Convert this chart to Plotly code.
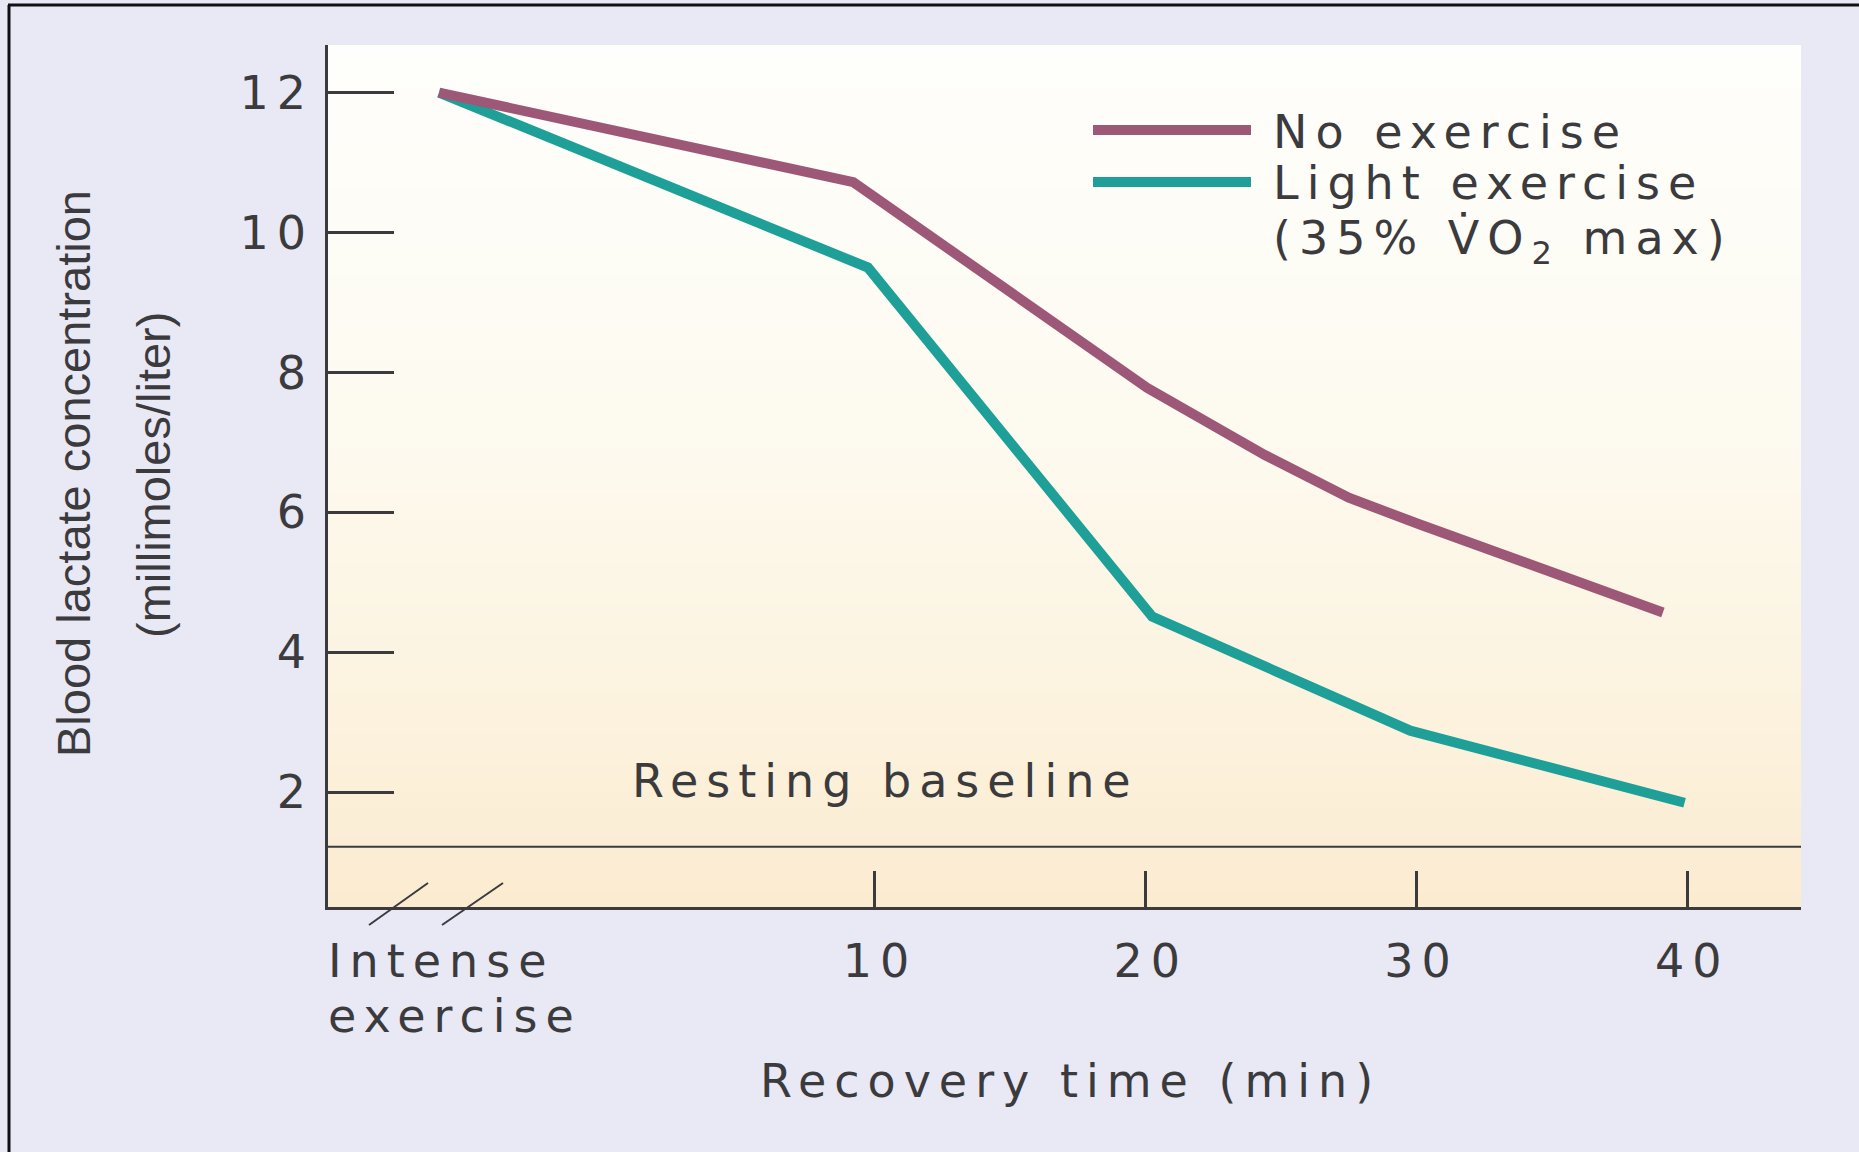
import plotly.graph_objects as go

# ---------------- data ----------------
no_ex_time = [-6.1, 9.2, 20.05, 21.4, 24.4, 27.5, 30.1, 39.1]
no_ex_lactate = [12.0, 10.72, 7.78, 7.47, 6.82, 6.21, 5.83, 4.57]

light_time = [-6.1, 9.74, 20.24, 29.77, 39.9]
light_lactate = [12.0, 9.50, 4.51, 2.88, 1.85]

resting_baseline = 1.22

x_tickvals = [10, 20, 30, 40]
x_ticktext = ["10", "20", "30", "40"]
y_tickvals = [2, 4, 6, 8, 10, 12]
y_ticktext = ["2", "4", "6", "8", "10", "12"]

series_names = ["No exercise", "Light exercise"]

# ---------------- styling ----------------
W, H = 1859, 1152
ML, MR, MT, MB = 328, 58, 45, 245
PL, PR, PT, PB = ML, W - MR, MT, H - MB

PURPLE = "#9e5877"
TEAL = "#1e9f98"
INK = "#3b3b3e"
FONT = "DejaVu Sans"
FS = 46


def fx(px):
    return (px - PL) / (PR - PL)


def fy(py):
    return (PB - py) / (PB - PT)


def sp(t):
    return f"<span style='letter-spacing:8px'>{t}</span>"


fig = go.Figure()

fig.add_trace(go.Scatter(x=light_time, y=light_lactate, mode="lines",
                         line=dict(color=TEAL, width=10), name=series_names[1],
                         showlegend=False, hoverinfo="skip"))
fig.add_trace(go.Scatter(x=no_ex_time, y=no_ex_lactate, mode="lines",
                         line=dict(color=PURPLE, width=10), name=series_names[0],
                         showlegend=False, hoverinfo="skip"))

shapes = []
# gradient plot background (cream -> peach)
stops = [(0.0, (254, 254, 252)), (0.45, (253, 250, 239)),
         (0.75, (252, 243, 224)), (1.0, (251, 235, 208))]


def grad(t):
    for (t0, c0), (t1, c1) in zip(stops[:-1], stops[1:]):
        if t0 <= t <= t1:
            u = (t - t0) / (t1 - t0)
            return "rgb(%d,%d,%d)" % tuple(round(a + (b - a) * u) for a, b in zip(c0, c1))
    return "rgb(%d,%d,%d)" % stops[-1][1]


N = 60
for i in range(N):
    y0 = i / N
    y1 = min(1.0, (i + 1) / N + 0.002)
    t = 1 - (i + 0.5) / N  # 0 at top
    shapes.append(dict(type="rect", xref="x domain", yref="y domain",
                       x0=0, x1=1, y0=y0, y1=y1, fillcolor=grad(t),
                       line=dict(width=0), layer="below"))

# resting baseline
shapes.append(dict(type="line", xref="x domain", yref="y", x0=0, x1=1,
                   y0=resting_baseline, y1=resting_baseline,
                   line=dict(color=INK, width=2)))

# axis-break marks
for (a, b, c, d) in [(369, 925, 428, 883), (442, 925, 503, 883)]:
    shapes.append(dict(type="line", xref="paper", yref="paper",
                       x0=fx(a), y0=fy(b), x1=fx(c), y1=fy(d),
                       line=dict(color=INK, width=2)))

# legend swatches
for col, py in [(PURPLE, 130), (TEAL, 182)]:
    shapes.append(dict(type="line", xref="paper", yref="paper",
                       x0=fx(1093), x1=fx(1251), y0=fy(py), y1=fy(py),
                       line=dict(color=col, width=10)))

# scanned-page frame (top and left)
shapes.append(dict(type="line", xref="paper", yref="paper",
                   x0=fx(8), x1=fx(W), y0=fy(5), y1=fy(5),
                   line=dict(color="#111111", width=3)))
shapes.append(dict(type="line", xref="paper", yref="paper",
                   x0=fx(9), x1=fx(9), y0=fy(5), y1=fy(H),
                   line=dict(color="#111111", width=3)))

font_main = dict(family=FONT, size=FS, color=INK)

annotations = [
    dict(text=sp("No exercise"), x=fx(1271), y=fy(132), xanchor="left", yanchor="middle"),
    dict(text=sp("Light exercise"), x=fx(1271), y=fy(183), xanchor="left", yanchor="middle"),
    dict(text=sp("(35% V\u0307O<sub>2</sub> max)"), x=fx(1271), y=fy(241),
         xanchor="left", yanchor="middle"),
    dict(text=sp("Intense"), x=fx(326), y=fy(961), xanchor="left", yanchor="middle"),
    dict(text=sp("exercise"), x=fx(326), y=fy(1016), xanchor="left", yanchor="middle"),
    dict(text=sp("Recovery time (min)"), x=fx(1070), y=fy(1081), xanchor="center", yanchor="middle"),
]
for a in annotations:
    a.update(xref="paper", yref="paper", showarrow=False, font=font_main)

annotations.append(dict(text=sp("Resting baseline"), xref="x", yref="paper",
                        x=0.95, y=fy(781), xanchor="left", yanchor="middle",
                        showarrow=False, font=font_main))

ytitle_font = dict(family="Liberation Sans", size=47, color=INK)
annotations.append(dict(text="Blood lactate concentration", xref="paper", yref="paper",
                        x=fx(73), y=fy(474), textangle=-90, xanchor="center",
                        yanchor="middle", showarrow=False, font=ytitle_font))
annotations.append(dict(text="(millimoles/liter)", xref="paper", yref="paper",
                        x=fx(153), y=fy(475), textangle=-90, xanchor="center",
                        yanchor="middle", showarrow=False, font=ytitle_font))

fig.update_layout(
    width=W, height=H,
    margin=dict(l=ML, r=MR, t=MT, b=MB, pad=0),
    paper_bgcolor="#e9e8f5",
    plot_bgcolor="#fdfaf0",
    showlegend=False,
    shapes=shapes,
    annotations=annotations,
    xaxis=dict(range=[-10.2, 44.2], showgrid=False, zeroline=False,
               showline=True, linecolor=INK, linewidth=2.5,
               ticks="inside", ticklen=36, tickwidth=2.5, tickcolor=INK,
               tickvals=x_tickvals, ticktext=[sp(t) for t in x_ticktext],
               tickfont=font_main, ticklabelstandoff=12, ticklabelshift=5,
               fixedrange=True),
    yaxis=dict(range=[0.36, 12.68], showgrid=False, zeroline=False,
               showline=True, linecolor=INK, linewidth=2.5,
               ticks="inside", ticklen=66, tickwidth=2.5, tickcolor=INK,
               tickvals=y_tickvals, ticktext=[sp(t) for t in y_ticktext],
               tickfont=font_main, ticklabelstandoff=2,
               fixedrange=True),
)

fig.write_html("out.html")
